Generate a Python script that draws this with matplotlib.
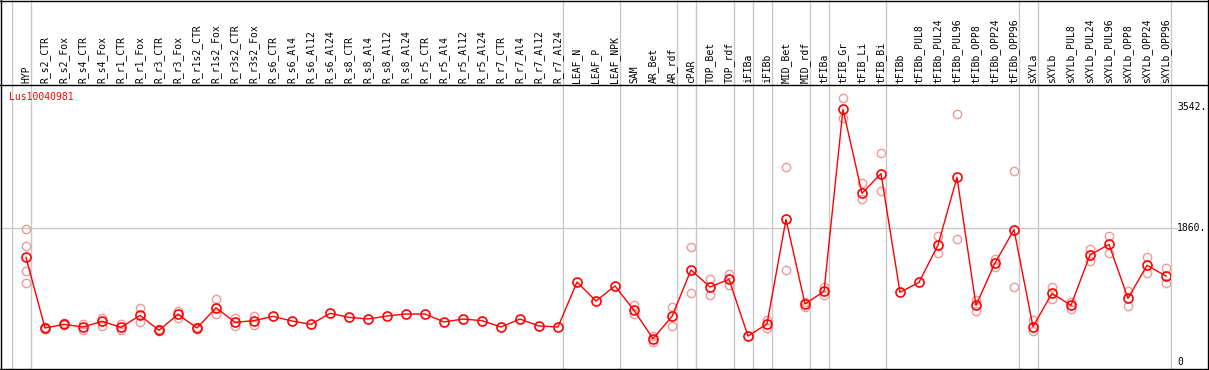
import matplotlib
matplotlib.use("Agg")
import matplotlib.pyplot as plt
from matplotlib.lines import Line2D
import matplotlib.transforms as mtrans

# --------- данные ---------
gene = "Lus10040981"
samples = ["HYP",
           "R_s2_CTR", "R_s2_Fox", "R_s4_CTR", "R_s4_Fox", "R_r1_CTR", "R_r1_Fox",
           "R_r3_CTR", "R_r3_Fox", "R_r1s2_CTR", "R_r1s2_Fox", "R_r3s2_CTR", "R_r3s2_Fox",
           "R_s6_CTR", "R_s6_Al4", "R_s6_Al12", "R_s6_Al24", "R_s8_CTR", "R_s8_Al4",
           "R_s8_Al12", "R_s8_Al24", "R_r5_CTR", "R_r5_Al4", "R_r5_Al12", "R_r5_Al24",
           "R_r7_CTR", "R_r7_Al4", "R_r7_Al12", "R_r7_Al24",
           "LEAF_N", "LEAF_P", "LEAF_NPK", "SAM", "AR_Bet", "AR_rdf", "cPAR",
           "TOP_Bet", "TOP_rdf", "iFIBa", "iFIBb", "MID_Bet", "MID_rdf",
           "tFIBa", "tFIB_Gr", "tFIB_Li", "tFIB_Bi",
           "tFIBb", "tFIBb_PUL8", "tFIBb_PUL24", "tFIBb_PUL96", "tFIBb_OPP8", "tFIBb_OPP24", "tFIBb_OPP96",
           "sXYLa",
           "sXYLb", "sXYLb_PUL8", "sXYLb_PUL24", "sXYLb_PUL96", "sXYLb_OPP8", "sXYLb_OPP24", "sXYLb_OPP96"]
mean_vals = [1454, 472, 523, 486, 565, 481, 648, 440, 662, 472, 754, 551, 574,
             634, 569, 523, 676, 620, 597, 639, 667, 667, 556, 597, 574, 486, 597, 500, 486,
             1111, 847, 1056, 718, 324, 634, 1278, 1042, 1148, 361, 528, 1981, 806,
             981, 3509, 2343, 2616, 968, 1106, 1625, 2565, 787, 1375, 1838,
             491, 954, 787, 1486, 1634, 884, 1343, 1194]
rep_vals = [[1843, 1611, 1264, 1093],
            [455, 490], [510, 535], [528, 444], [611, 505], [528, 444], [754, 551],
            [425, 455], [708, 616], [460, 485], [875, 662], [611, 500], [634, 519],
            [], [], [], [], [], [], [], [], [], [], [], [], [], [], [], [],
            [], [], [], [792, 662], [361, 282], [764, 505], [1597, 954],
            [1148, 931], [1227, 1074], [], [583, 472], [2704, 1273], [838, 759],
            [1046, 935], [3662, 3384], [2481, 2264], [2898, 2380],
            [], [], [1750, 1509], [3440, 1704], [861, 713], [1426, 1324], [2648, 1037],
            [583, 435], [1046, 870], [833, 741], [1569, 1407], [1750, 1509],
            [986, 773], [1454, 1231], [1301, 1093]]
group_ends = [-1, 0, 28, 31, 34, 35, 37, 38, 39, 41, 42, 45, 52, 53, 60]
y_ticks = [3542, 1860, 0]
y_tick_labels = ["3542.", "1860.", "0"]

W, H = 1209, 370
FONT = "DejaVu Sans Mono"
GRAY = "#c8c8c8"

fig = plt.figure(figsize=(W/100, H/100), dpi=100)
fig.patch.set_facecolor("white")

# область графика в пикселях: x 0..1170, y 85..369
ax = fig.add_axes([0, 1/H, 1170/W, 284/H])
ax.axis("off")
ax.set_xlim(-26/19, (1170-26)/19)
ax.set_ylim((362-369)/0.072, (362-85)/0.072)

# сетка
for b in group_ends:
    ax.axvline(b + 0.25, ymin=0, ymax=369/284, color=GRAY, lw=1, clip_on=False, zorder=0)
ax.axhline(1860, xmin=0, xmax=1177/1170, color=GRAY, lw=1, clip_on=False, zorder=0)

xs = list(range(len(samples)))
# повторности
rx = [i for i, r in enumerate(rep_vals) for _ in r]
ry = [v for r in rep_vals for v in r]
ax.plot(rx, ry, "o", ms=6, mfc="none", mec="#ee9a9a", mew=1.0, zorder=2)
# среднее
ax.plot(xs, mean_vals, "-", color="red", lw=1, zorder=3)
ax.plot(xs, mean_vals, "o", ms=6.5, mfc="none", mec="red", mew=1.2, zorder=4)

# подписи образцов
tr_head = mtrans.blended_transform_factory(ax.transData, ax.transAxes)
for i, s in enumerate(samples):
    ax.text(i, (369-83)/284, s, transform=tr_head, rotation=90, ha="center", va="bottom",
            fontsize=7, family=FONT, clip_on=False)

# правая шкала
tr_right = mtrans.blended_transform_factory(fig.transFigure, ax.transData)
for v, lab in zip(y_ticks, y_tick_labels):
    ax.text(1177/W, v, lab, transform=tr_right, ha="left", va="center", fontsize=7, family=FONT)

fig.text(9/W, 1-97/H, gene, color="red", ha="left", va="center", fontsize=7, family=FONT)

# рамка
def px_line(x0, y0, x1, y1):
    fig.add_artist(Line2D([x0/W, x1/W], [1-y0/H, 1-y1/H], color="black", lw=1.0,
                          transform=fig.transFigure))
px_line(0, 0.5, W, 0.5)
px_line(0, 85, W, 85)
px_line(0, 369, W, 369)
px_line(1, 0, 1, H)
px_line(1208, 0, 1208, H)

fig.savefig("out.png", dpi=100)
